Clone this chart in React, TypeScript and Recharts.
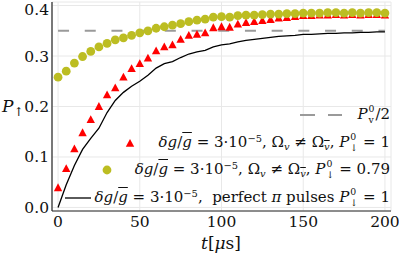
import React from 'react';
import { ComposedChart, Line, Scatter, XAxis, YAxis, CartesianGrid, Legend } from 'recharts';

const times = [0, 5, 10, 15, 20, 25, 30, 35, 40, 45, 50, 55, 60, 65, 70, 75, 80, 85, 90, 95, 100, 105, 110, 115, 120, 125, 130, 135, 140, 145, 150, 155, 160, 165, 170, 175, 180, 185, 190, 195, 200];

const redValues = [0.040, 0.078, 0.117, 0.149, 0.175, 0.201, 0.224, 0.238, 0.259, 0.276, 0.286, 0.297, 0.311, 0.319, 0.323, 0.334, 0.342, 0.344, 0.347, 0.357, 0.359, 0.358, 0.364, 0.367, 0.369, 0.371, 0.373, 0.376, 0.377, 0.379, 0.381, 0.381, 0.382, 0.382, 0.383, 0.382, 0.383, 0.382, 0.383, 0.383, 0.382];

const greenValues = [0.258, 0.270, 0.286, 0.299, 0.309, 0.318, 0.325, 0.332, 0.336, 0.341, 0.346, 0.350, 0.355, 0.358, 0.361, 0.364, 0.368, 0.371, 0.373, 0.377, 0.378, 0.377, 0.380, 0.381, 0.381, 0.382, 0.383, 0.383, 0.384, 0.384, 0.385, 0.385, 0.385, 0.386, 0.386, 0.385, 0.386, 0.385, 0.386, 0.386, 0.385];

const blackValues = [0.000, 0.045, 0.083, 0.115, 0.137, 0.157, 0.188, 0.212, 0.228, 0.240, 0.250, 0.262, 0.276, 0.285, 0.289, 0.297, 0.304, 0.308, 0.311, 0.318, 0.322, 0.324, 0.328, 0.331, 0.333, 0.335, 0.337, 0.339, 0.340, 0.341, 0.343, 0.343, 0.344, 0.345, 0.345, 0.346, 0.346, 0.347, 0.347, 0.348, 0.348];

const halfPv0 = 0.35;

const xTicks = [0, 50, 100, 150, 200];
const yTicks = [0, 0.1, 0.2, 0.3, 0.4];
const xMinorTicks = [0, 10, 20, 30, 40, 50, 60, 70, 80, 90, 100, 110, 120, 130, 140, 150, 160, 170, 180, 190, 200];
const yMinorTicks = [0, 0.02, 0.04, 0.06, 0.08, 0.1, 0.12, 0.14, 0.16, 0.18, 0.2, 0.22, 0.24, 0.26, 0.28, 0.3, 0.32, 0.34, 0.36, 0.38, 0.4];

const data = times.map((t, i) => ({
  t,
  red: redValues[i],
  green: greenValues[i],
  black: blackValues[i],
  half: halfPv0,
}));

const X_DOMAIN: [number, number] = [-3.7, 203.7];
const Y_DOMAIN: [number, number] = [-0.007, 0.407];

const RED = '#ff0000';
const GREEN = '#bcbd22';
const GRAY = '#9a9a9a';
const AXIS = '#262626';
const serif = "'DejaVu Serif', serif";

const Triangle = (props: any) => {
  const { cx, cy } = props;
  if (cx == null || cy == null) return null;
  const w = 4.2;
  const h = 3.9;
  return <polygon points={`${cx},${cy - h} ${cx - w},${cy + h} ${cx + w},${cy + h}`} fill={RED} />;
};

const Dot = (props: any) => {
  const { cx, cy } = props;
  if (cx == null || cy == null) return null;
  return <circle cx={cx} cy={cy} r={4.4} fill={GREEN} />;
};

const over: React.CSSProperties = { textDecoration: 'overline', fontStyle: 'italic' };

const Stack = ({ sup, sub, mr = 5 }: { sup: string; sub: string; mr?: number }) => (
  <span
    style={{
      display: 'inline-flex',
      flexDirection: 'column',
      alignItems: 'flex-start',
      fontSize: '0.62em',
      lineHeight: 1.18,
      verticalAlign: 'middle',
      margin: `0 ${mr}px 0 1px`,
    }}
  >
    <span>{sup}</span>
    <span>{sub}</span>
  </span>
);

const Sup = ({ children }: { children: React.ReactNode }) => (
  <span style={{ fontSize: '0.66em', position: 'relative', top: '-0.55em' }}>{children}</span>
);
const Sub = ({ children }: { children: React.ReactNode }) => (
  <span style={{ fontSize: '0.66em', position: 'relative', top: '0.3em' }}>{children}</span>
);

const Common = () => (
  <>
    <i>δg</i>/<span style={over}>g</span> = 3·10<Sup>−5</Sup>,
  </>
);

const rowText: React.CSSProperties = {
  position: 'absolute',
  right: 9,
  height: 28,
  display: 'flex',
  alignItems: 'center',
  whiteSpace: 'nowrap',
  fontFamily: serif,
  fontSize: 15,
  color: '#111',
};

const LegendContent = () => (
  <div style={{ position: 'relative', width: 399, height: 256 }}>
    {/* row 1 */}
    <svg style={{ position: 'absolute', left: 298, top: 109 }} width={46} height={12}>
      <line x1={2} y1={6} x2={17} y2={6} stroke={GRAY} strokeWidth={2} />
      <line x1={30} y1={6} x2={44} y2={6} stroke={GRAY} strokeWidth={2} />
    </svg>
    <div style={{ ...rowText, top: 101 }}>
      <span>
        <i>P</i>
        <Stack sup="0" sub="v" mr={1} />/2
      </span>
    </div>
    {/* row 2 */}
    <svg style={{ position: 'absolute', left: 124, top: 137 }} width={12} height={12}>
      <polygon points="6,2 1.8,9.8 10.2,9.8" fill={RED} />
    </svg>
    <div style={{ ...rowText, top: 129 }}>
      <span>
        <Common /> Ω<Sub><i>v</i></Sub> ≠ Ω<Sub><span style={over}>v</span></Sub>, <i>P</i>
        <Stack sup="0" sub="↓" />= 1
      </span>
    </div>
    {/* row 3 */}
    <svg style={{ position: 'absolute', left: 101, top: 164 }} width={12} height={12}>
      <circle cx={6} cy={6} r={4.4} fill={GREEN} />
    </svg>
    <div style={{ ...rowText, top: 156 }}>
      <span>
        <Common /> Ω<Sub><i>v</i></Sub> ≠ Ω<Sub><span style={over}>v</span></Sub>, <i>P</i>
        <Stack sup="0" sub="↓" />= 0.79
      </span>
    </div>
    {/* row 4 */}
    <svg style={{ position: 'absolute', left: 64, top: 192 }} width={30} height={12}>
      <line x1={1} y1={6} x2={27} y2={6} stroke="#000" strokeWidth={1.3} />
    </svg>
    <div style={{ ...rowText, top: 184 }}>
      <span>
        <Common />&nbsp; perfect <i>π</i> pulses <i>P</i>
        <Stack sup="0" sub="↓" />= 1
      </span>
    </div>
  </div>
);

const YLabel = () => (
  <text x={2} y={112} fontFamily={serif} fontSize={17} fill="#111">
    <tspan fontStyle="italic">P</tspan>
    <tspan fontSize={12} dy={4}>↑</tspan>
  </text>
);

const XLabel = () => (
  <text x={221} y={249} textAnchor="middle" fontFamily={serif} fontSize={17} fill="#111">
    <tspan fontStyle="italic">t</tspan>
    <tspan>[</tspan>
    <tspan fontStyle="italic">μ</tspan>
    <tspan>s]</tspan>
  </text>
);

const tickStyle = { fontFamily: serif, fontSize: 15.5, fill: '#111' };
const blank = () => '';

export default function App() {
  return (
    <div style={{ position: 'absolute', left: 0, top: 0, width: 399, height: 256, background: '#fff' }}>
      <ComposedChart width={399} height={256} data={data} margin={{ top: 2, right: 8, bottom: 0, left: 0 }}>
        <CartesianGrid xAxisId="b" yAxisId="l" stroke="#e8e8e8" strokeWidth={1} />
        <XAxis
          xAxisId="b"
          dataKey="t"
          type="number"
          domain={X_DOMAIN}
          allowDataOverflow
          ticks={xTicks}
          height={45}
          tickLine={false}
          tickSize={0}
          tickMargin={5}
          axisLine={{ stroke: AXIS, strokeWidth: 1.2 }}
          tick={tickStyle}
          label={<XLabel />}
        />
        <XAxis xAxisId="bmin" dataKey="t" type="number" orientation="bottom" mirror height={0} domain={X_DOMAIN} allowDataOverflow ticks={xMinorTicks} tickSize={2} axisLine={false} tickLine={{ stroke: AXIS }} tickFormatter={blank} />
        <XAxis xAxisId="bmaj" dataKey="t" type="number" orientation="bottom" mirror height={0} domain={X_DOMAIN} allowDataOverflow ticks={xTicks} tickSize={4} axisLine={false} tickLine={{ stroke: AXIS }} tickFormatter={blank} />
        <XAxis xAxisId="tmin" dataKey="t" type="number" orientation="top" mirror height={0} domain={X_DOMAIN} allowDataOverflow ticks={xMinorTicks} tickSize={2} axisLine={{ stroke: AXIS, strokeWidth: 1.2 }} tickLine={{ stroke: AXIS }} tickFormatter={blank} />
        <XAxis xAxisId="tmaj" dataKey="t" type="number" orientation="top" mirror height={0} domain={X_DOMAIN} allowDataOverflow ticks={xTicks} tickSize={4} axisLine={false} tickLine={{ stroke: AXIS }} tickFormatter={blank} />
        <YAxis
          yAxisId="l"
          type="number"
          domain={Y_DOMAIN}
          allowDataOverflow
          ticks={yTicks}
          width={52}
          tickLine={false}
          tickSize={0}
          tickMargin={3}
          axisLine={{ stroke: AXIS, strokeWidth: 1.2 }}
          tick={tickStyle}
          tickFormatter={(v: number) => v.toFixed(1)}
          label={<YLabel />}
        />
        <YAxis yAxisId="lmin" type="number" orientation="left" mirror width={0} domain={Y_DOMAIN} allowDataOverflow ticks={yMinorTicks} tickSize={2} axisLine={false} tickLine={{ stroke: AXIS }} tickFormatter={blank} />
        <YAxis yAxisId="lmaj" type="number" orientation="left" mirror width={0} domain={Y_DOMAIN} allowDataOverflow ticks={yTicks} tickSize={4} axisLine={false} tickLine={{ stroke: AXIS }} tickFormatter={blank} />
        <YAxis yAxisId="rmin" type="number" orientation="right" mirror width={0} domain={Y_DOMAIN} allowDataOverflow ticks={yMinorTicks} tickSize={2} axisLine={{ stroke: AXIS, strokeWidth: 1.2 }} tickLine={{ stroke: AXIS }} tickFormatter={blank} />
        <YAxis yAxisId="rmaj" type="number" orientation="right" mirror width={0} domain={Y_DOMAIN} allowDataOverflow ticks={yTicks} tickSize={4} axisLine={false} tickLine={{ stroke: AXIS }} tickFormatter={blank} />
        <Line xAxisId="b" yAxisId="l" dataKey="half" stroke={GRAY} strokeWidth={2} strokeDasharray="11 15.7" dot={false} isAnimationActive={false} />
        <Line xAxisId="b" yAxisId="l" dataKey="black" stroke="#000" strokeWidth={1.3} dot={false} isAnimationActive={false} />
        <Scatter xAxisId="b" yAxisId="l" dataKey="red" shape={<Triangle />} isAnimationActive={false} />
        <Scatter xAxisId="b" yAxisId="l" dataKey="green" shape={<Dot />} isAnimationActive={false} />
        <Legend
          layout="horizontal"
          verticalAlign="middle"
          align="center"
          content={<LegendContent />}
          wrapperStyle={{ position: 'absolute', left: 0, top: 0, width: 399, height: 256, pointerEvents: 'none' }}
        />
      </ComposedChart>
    </div>
  );
}
